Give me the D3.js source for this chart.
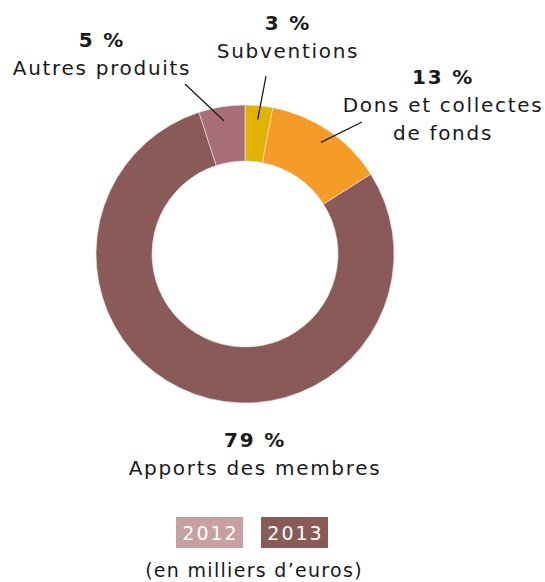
<!DOCTYPE html>
<html>
<head>
<meta charset="utf-8">
<script src="https://cdn.jsdelivr.net/npm/d3@7"></script>
<style>
  body { margin: 0; background: #fff; }
  svg text { font-family: "DejaVu Sans", sans-serif; fill: #1a1a1a; }
</style>
</head>
<body>
<div id="chart"></div>
<script>
// parts of the 2013 resources, in percent
let categories = ['Subventions', 'Dons et collectes de fonds', 'Apports des membres', 'Autres produits']
let values = [3, 13, 79, 5]
let pctLabels = ['3 %', '13 %', '79 %', '5 %']
let colours = ['#e0b300', '#f49c25', '#8a5a58', '#a86f78']
let years = ['2012', '2013']
let yearColours = ['#c9a0a2', '#8a5a58']

let width = 545, height = 582
let cx = 245, cy = 254
let outerR = 149, innerR = 93

let svg = d3.select('#chart')
  .append('svg')
    .attr('width', width)
    .attr('height', height)

let pie = d3.pie().sort(null).value(function(d){ return d })
let arcs = pie(values)
let arc = d3.arc().innerRadius(innerR).outerRadius(outerR)
let leadArc = d3.arc().innerRadius(135).outerRadius(135)

let g = svg.append('g')
  .attr('transform', 'translate(' + cx + ',' + cy + ')')

g.selectAll('path')
  .data(arcs)
  .enter()
  .append('path')
  .attr('d', arc)
  .attr('fill', function(d, i){ return colours[i] })
  .attr('stroke', '#f3e6e6')
  .attr('stroke-width', 0.6)

// label blocks: centre x, baseline of the bold line, name lines, leader end
let labelPos = [
  {x: 288, y: 30, lines: ['Subventions'], end: [266, 76]},
  {x: 443, y: 84, lines: ['Dons et collectes', 'de fonds'], end: [362, 122]},
  {x: 255, y: 447, lines: ['Apports des membres'], end: null},
  {x: 102, y: 47, lines: ['Autres produits'], end: [185, 84]}
]

// leader lines from the ring to the labels
arcs.forEach(function(a, i){
  let p = labelPos[i]
  if(!p.end) return
  let c = leadArc.centroid(a)
  svg.append('line')
    .attr('x1', cx + c[0])
    .attr('y1', cy + c[1])
    .attr('x2', p.end[0])
    .attr('y2', p.end[1])
    .attr('stroke', '#1a1a1a')
    .attr('stroke-width', 1.3)
})

labelPos.forEach(function(p, i){
  svg.append('text')
    .attr('x', p.x)
    .attr('y', p.y)
    .attr('text-anchor', 'middle')
    .attr('font-size', 20)
    .attr('font-weight', 'bold')
    .attr('letter-spacing', 1.8)
    .text(pctLabels[i])
  p.lines.forEach(function(l, j){
    svg.append('text')
      .attr('x', p.x)
      .attr('y', p.y + 28 + j * 28)
      .attr('text-anchor', 'middle')
      .attr('font-size', 20)
      .attr('letter-spacing', 1.7)
      .text(l)
  })
})

// year legend
let legendX = d3.scaleBand().domain(years).range([176, 328]).paddingInner(0.212)
let leg = svg.selectAll('.year')
  .data(years)
  .enter()
  .append('g')
  .attr('class', 'year')
leg.append('rect')
  .attr('x', function(d){ return legendX(d) })
  .attr('y', 517)
  .attr('width', legendX.bandwidth())
  .attr('height', 31)
  .attr('fill', function(d, i){ return yearColours[i] })
leg.append('text')
  .attr('x', function(d){ return legendX(d) + legendX.bandwidth() / 2 + 1 })
  .attr('y', 540)
  .attr('text-anchor', 'middle')
  .attr('font-size', 19)
  .attr('letter-spacing', 2)
  .style('fill', '#fff')
  .text(function(d){ return d })

svg.append('text')
  .attr('x', 254)
  .attr('y', 577)
  .attr('text-anchor', 'middle')
  .attr('font-size', 19)
  .attr('letter-spacing', 1.3)
  .text('(en milliers d’euros)')
</script>
</body>
</html>
